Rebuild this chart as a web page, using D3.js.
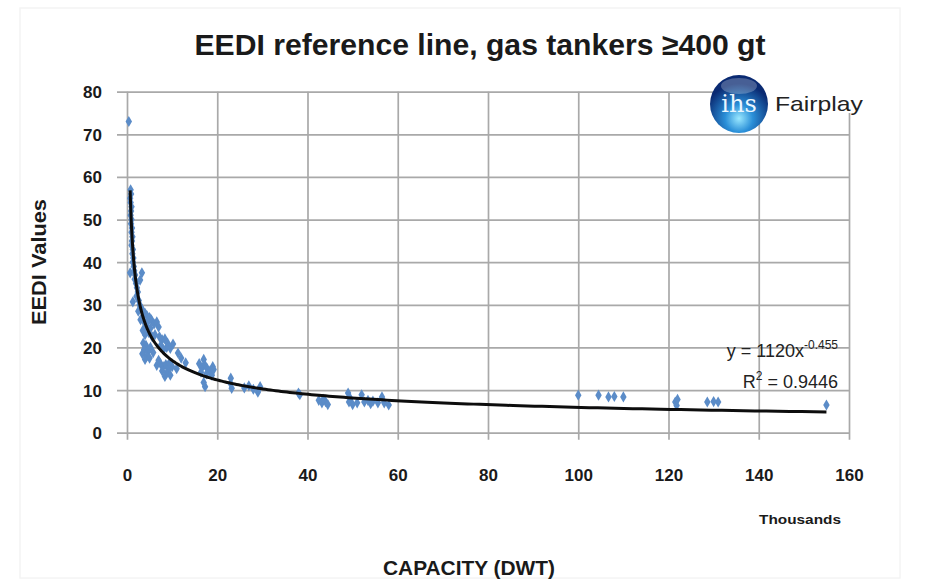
<!DOCTYPE html>
<html>
<head>
<meta charset="utf-8">
<script src="https://cdn.jsdelivr.net/npm/d3@7/dist/d3.min.js"></script>
<style>
  html, body { margin: 0; padding: 0; background: #fff; }
  #chart { width: 950px; height: 582px; }
  .grid line { stroke: #a9a9a9; stroke-width: 1.7px; }
  .grid .domain { display: none; }
  .grid text { font-family: "Liberation Sans", sans-serif; font-weight: bold; font-size: 17px; fill: #1a1a1a; }
  .label { font-family: "Liberation Sans", sans-serif; font-weight: bold; fill: #1a1a1a; }
  .eq { font-family: "Liberation Sans", sans-serif; font-size: 18px; fill: #222; }
</style>
</head>
<body>
<div id="chart"></div>
<script>

// Capacity in thousand DWT
var capacity = [
  0.4, 0.8, 0.9, 0.7, 0.8, 1.0, 0.9, 0.8, 1.0, 0.9, 1.1, 1.0, 1.2, 1.1, 1.0, 1.3, 1.2, 1.4, 1.3, 1.5,
  0.7, 1.6, 1.8, 1.7, 2.9, 3.3, 2.0, 2.2, 2.4, 2.1, 1.3, 2.6, 2.8, 3.0, 2.5,
  3.2, 3.6, 4.0, 3.4, 4.4, 5.0, 3.8, 4.6, 5.4, 6.0, 6.6, 4.2, 5.2, 7.0, 3.0, 3.5, 4.8, 6.2, 5.6, 4.0,
  3.6, 4.2, 3.8, 4.6, 5.2, 3.4, 4.4, 5.0, 5.8, 4.0,
  7.2, 7.8, 8.4, 9.0, 7.5, 8.8, 9.6, 8.1, 10.2,
  7.4, 8.0, 8.6, 9.2, 7.8, 8.8, 9.6, 10.0, 8.4, 9.4, 6.6, 7.0,
  11.3, 13.0, 12.0, 11.0,
  16.0, 16.6, 17.2, 17.8, 18.4, 19.0, 16.4, 17.6, 18.8, 19.2, 17.0,
  17.3, 17.0, 23.0, 23.0, 23.2,
  26.0, 27.0, 28.0, 29.0, 29.5, 38.0, 38.3,
  42.5, 43.2, 44.0, 44.5, 43.5, 49.0, 49.5, 50.0, 49.2,
  51.0, 52.0, 52.6, 53.4, 54.0, 54.5, 55.6, 56.5, 57.0, 58.0,
  100.0, 104.5, 106.7, 108.0, 110.0, 121.5, 121.8, 122.0, 128.6, 130.0, 131.0, 155.0
];

// EEDI value for each ship
var eedi = [
  73, 57, 56, 55, 54, 53, 52, 51, 50, 49, 48, 47, 46, 45, 44, 43, 42, 41, 40, 39,
  37.5, 38, 37, 36, 35.8, 37.5, 35, 34, 33, 32, 30.7, 31, 30, 29.5, 28.5,
  29, 28.5, 28, 27, 27.5, 27, 26, 26, 26.5, 25.5, 26, 25, 24.5, 24.8, 26.5, 24, 23.5, 23, 22.5, 23,
  21, 20.5, 19.5, 19, 20, 18.5, 18, 17.5, 18.8, 17.2,
  22.5, 21.8, 22, 21, 20.5, 20, 19.8, 19.5, 20.8,
  16.2, 15.5, 16, 15, 14.5, 14, 13.5, 15.5, 13.2, 16.4, 15.8, 17,
  18.7, 16.4, 17.5, 15,
  16.2, 15.2, 16, 15, 14.5, 15.5, 14.2, 13.8, 13.5, 14.8, 17.2,
  10.8, 11.8, 12.8, 11.5, 10.4,
  10.5, 11, 10.2, 9.5, 10.8, 9.3, 8.9,
  7.6, 7, 7.3, 6.6, 7.8, 9.3, 8, 6.6, 7.2,
  7, 8.9, 7.2, 7.6, 6.8, 7.4, 7, 8.4, 7, 6.5,
  8.8, 8.8, 8.4, 8.5, 8.4, 7.2, 6.4, 7.8, 7.2, 7.3, 7.2, 6.5
];

var xTicks = [0, 20, 40, 60, 80, 100, 120, 140, 160];
var yTicks = [0, 10, 20, 30, 40, 50, 60, 70, 80];

// Power trend line as reported on the chart: y = a * x^b (x in DWT)
var trendA = 1120;
var trendB = -0.455;
var trendRange = [0.7, 155];

var margin = {top: 91.7, right: 101, bottom: 149.3, left: 127};
var widthCont = 950, heightCont = 582;
var width = widthCont - margin.left - margin.right;
var height = heightCont - margin.top - margin.bottom;

var svg = d3.select('#chart').append('svg')
  .attr('width', widthCont)
  .attr('height', heightCont);

// faint outer frame
svg.append('rect')
  .attr('x', 20).attr('y', 8)
  .attr('width', 880).attr('height', 570)
  .attr('fill', 'none')
  .attr('stroke', '#f4f4f4')
  .attr('stroke-width', 1.5);

var g = svg.append('g')
  .attr('transform', 'translate(' + margin.left + ',' + margin.top + ')');

var x = d3.scaleLinear().domain([0, 160]).range([0, width]);
var y = d3.scaleLinear().domain([0, 80]).range([height, 0]);

// Grid + axes
var yAxis = d3.axisLeft(y)
  .tickValues(yTicks)
  .tickSize(-(width + 10))
  .tickPadding(15);

g.append('g')
  .attr('class', 'grid y')
  .attr('transform', 'translate(-10,0)')
  .call(yAxis)
  .selectAll('text').attr('dy', '0.35em');

var xAxis = d3.axisBottom(x)
  .tickValues(xTicks)
  .tickSize(-(height + 7))
  .tickPadding(29);

g.append('g')
  .attr('class', 'grid x')
  .attr('transform', 'translate(0,' + (height + 7) + ')')
  .call(xAxis);

// Points
var points = capacity.map(function(d, i){ return {x: d, y: eedi[i]}; });

g.append('g')
  .attr('class', 'points')
  .selectAll('path')
  .data(points)
.enter().append('path')
  .attr('transform', function(d){ return 'translate(' + x(d.x) + ',' + y(d.y) + ')'; })
  .attr('d', d3.symbol().type(d3.symbolDiamond).size(36))
  .attr('fill', '#5b8cc8');

// Trend line
var trendData = d3.range(0, 301).map(function(i){
  var t = i / 300;
  var xv = trendRange[0] * Math.pow(trendRange[1] / trendRange[0], t);
  return {x: xv, y: trendA * Math.pow(xv * 1000, trendB)};
});

var line = d3.line()
  .x(function(d){ return x(d.x); })
  .y(function(d){ return y(d.y); });

g.append('path')
  .datum(trendData)
  .attr('d', line)
  .attr('fill', 'none')
  .attr('stroke', '#0d0d0d')
  .attr('stroke-width', 3);

// Equation
var eq = svg.append('text')
  .attr('class', 'eq')
  .attr('x', 838)
  .attr('y', 357)
  .attr('text-anchor', 'end');
eq.append('tspan').text('y = ' + trendA + 'x');
eq.append('tspan').attr('dy', -8).attr('font-size', '12px').text('-0.455');

var r2 = svg.append('text')
  .attr('class', 'eq')
  .attr('x', 838)
  .attr('y', 388)
  .attr('text-anchor', 'end');
r2.append('tspan').text('R');
r2.append('tspan').attr('dy', -8).attr('font-size', '12px').text('2');
r2.append('tspan').attr('dy', 8).text(' = 0.9446');

// Title and axis titles
svg.append('text')
  .attr('class', 'label')
  .attr('x', 480)
  .attr('y', 55)
  .attr('text-anchor', 'middle')
  .attr('font-size', '30px')
  .attr('textLength', 571)
  .attr('lengthAdjust', 'spacingAndGlyphs')
  .text('EEDI reference line, gas tankers \u2265400 gt');

svg.append('text')
  .attr('class', 'label')
  .attr('transform', 'translate(46,262) rotate(-90)')
  .attr('text-anchor', 'middle')
  .attr('font-size', '20px')
  .attr('textLength', 126)
  .attr('lengthAdjust', 'spacingAndGlyphs')
  .text('EEDI Values');

svg.append('text')
  .attr('class', 'label')
  .attr('x', 469)
  .attr('y', 575)
  .attr('text-anchor', 'middle')
  .attr('font-size', '20px')
  .attr('textLength', 172)
  .attr('lengthAdjust', 'spacingAndGlyphs')
  .text('CAPACITY (DWT)');

svg.append('text')
  .attr('class', 'label')
  .attr('x', 800)
  .attr('y', 524)
  .attr('text-anchor', 'middle')
  .attr('font-size', '13px')
  .attr('textLength', 82)
  .attr('lengthAdjust', 'spacingAndGlyphs')
  .text('Thousands');

// Logo
var logo = svg.append('g').attr('class', 'logo');

logo.append('rect')
  .attr('x', 765).attr('y', 80)
  .attr('width', 95).attr('height', 33)
  .attr('fill', '#fff');

var defs = svg.append('defs');
var grad = defs.append('radialGradient')
  .attr('id', 'sphere')
  .attr('cx', '50%').attr('cy', '75%').attr('r', '60%');
grad.append('stop').attr('offset', '0%').attr('stop-color', '#9ae8ff');
grad.append('stop').attr('offset', '40%').attr('stop-color', '#2a8fd8');
grad.append('stop').attr('offset', '100%').attr('stop-color', '#0a2a72');

logo.append('circle')
  .attr('cx', 739).attr('cy', 104).attr('r', 29)
  .attr('fill', 'url(#sphere)');

logo.append('ellipse')
  .attr('cx', 739).attr('cy', 86).attr('rx', 18).attr('ry', 8)
  .attr('fill', '#fff').attr('fill-opacity', 0.25);

logo.append('text')
  .attr('x', 739).attr('y', 112)
  .attr('text-anchor', 'middle')
  .attr('font-family', '"DejaVu Serif", serif')
  .attr('font-size', '24px')
  .attr('fill', '#eaf6ff')
  .text('ihs');

logo.append('text')
  .attr('x', 775).attr('y', 111)
  .attr('font-family', '"Liberation Sans", Arial, sans-serif')
  .attr('font-size', '21px')
  .attr('fill', '#222')
  .attr('textLength', 88)
  .attr('lengthAdjust', 'spacingAndGlyphs')
  .text('Fairplay');

</script>
</body>
</html>
